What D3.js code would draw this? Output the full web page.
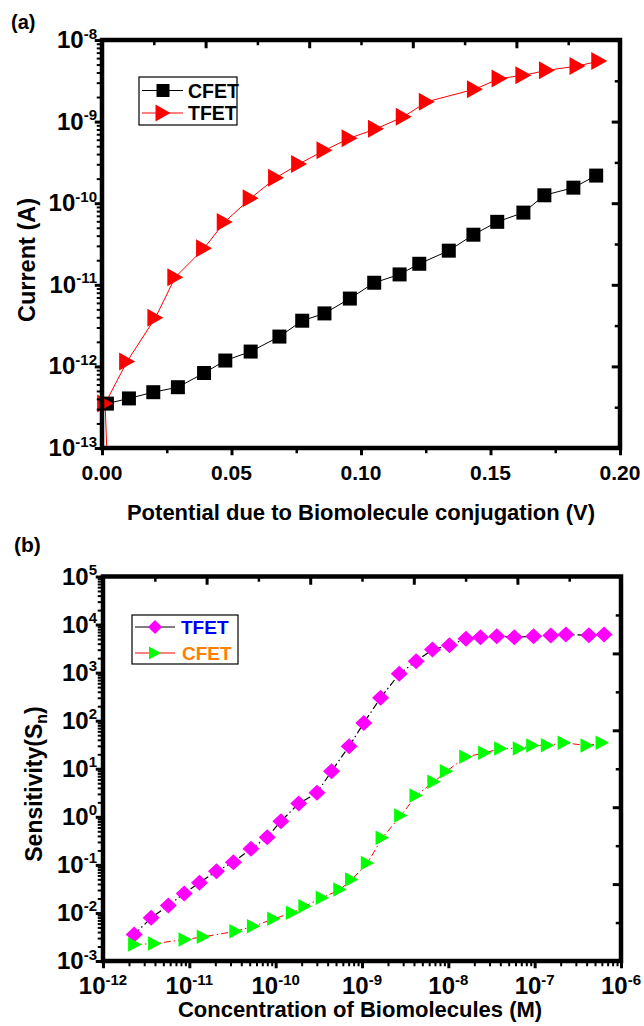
<!DOCTYPE html>
<html>
<head>
<meta charset="utf-8">
<script src="https://cdn.jsdelivr.net/npm/d3@7"></script>
<style>
  html, body { margin: 0; padding: 0; background: #fff; }
  svg { display: block; font-family: "Liberation Sans", Arial, sans-serif; font-weight: bold; }
</style>
</head>
<body>
<svg id="fig" width="644" height="1026"></svg>
<script>
// ---------------- Panel (a): current vs. conjugation potential ----------------
const potentialCFET = [0.0019, 0.0104, 0.0198, 0.0293, 0.0394, 0.0476, 0.0574, 0.0685, 0.0773, 0.0859,
                       0.0957, 0.1051, 0.1149, 0.1225, 0.1339, 0.1434, 0.1526, 0.1627, 0.1708, 0.1820, 0.1908];
const currentCFET   = [3.5e-13, 4.05e-13, 4.83e-13, 5.56e-13, 8.3e-13, 1.18e-12, 1.52e-12, 2.32e-12, 3.63e-12, 4.46e-12,
                       6.78e-12, 1.06e-11, 1.34e-11, 1.81e-11, 2.62e-11, 4.11e-11, 5.91e-11, 7.67e-11, 1.25e-10, 1.55e-10, 2.18e-10];
// first TFET sample lies below the plotted current range
const potentialTFET = [0.0030, 0.0012, 0.0097, 0.0206, 0.0283, 0.0394, 0.0474, 0.0574, 0.0672, 0.0761, 0.0859,
                       0.0956, 0.1058, 0.1165, 0.1254, 0.1440, 0.1535, 0.1627, 0.1718, 0.1836, 0.1920];
const currentTFET   = [1e-14, 3.5e-13, 1.15e-12, 3.94e-12, 1.24e-11, 2.8e-11, 5.9e-11, 1.15e-10, 2.05e-10, 3.03e-10, 4.44e-10,
                       6.26e-10, 8.15e-10, 1.15e-9, 1.75e-9, 2.5e-9, 3.37e-9, 3.69e-9, 4.25e-9, 4.8e-9, 5.52e-9];
const potentialTicks = [0, 0.05, 0.10, 0.15, 0.20];
const potentialTickLabels = ["0.00", "0.05", "0.10", "0.15", "0.20"];
const currentExponents = [-13, -12, -11, -10, -9, -8];

// ---------------- Panel (b): sensitivity vs. concentration ----------------
const concTFET = [2.30e-12, 3.61e-12, 5.71e-12, 8.73e-12, 1.31e-11, 2.06e-11, 3.24e-11, 5.18e-11, 7.98e-11, 1.15e-10,
                  1.85e-10, 3.01e-10, 4.44e-10, 7.10e-10, 1.05e-9, 1.64e-9, 2.70e-9, 4.24e-9, 6.55e-9, 1.03e-8,
                  1.60e-8, 2.36e-8, 3.64e-8, 5.82e-8, 9.72e-8, 1.54e-7, 2.30e-7, 4.24e-7, 6.37e-7];
const sensTFET = [3.56e-3, 7.9e-3, 0.0143, 0.0254, 0.0423, 0.0738, 0.114, 0.216, 0.377, 0.81,
                  1.89, 3.15, 8.9, 29.4, 90, 299, 942, 1726, 3020, 3715,
                  5047, 5445, 5715, 5445, 5715, 5912, 6195, 6000, 6195];
const concCFET = [2.34e-12, 3.98e-12, 8.97e-12, 1.46e-11, 3.48e-11, 5.56e-11, 9.55e-11, 1.57e-10, 2.19e-10, 3.48e-10,
                  5.56e-10, 7.62e-10, 1.16e-9, 1.72e-9, 2.82e-9, 4.24e-9, 6.84e-9, 9.55e-9, 1.60e-8, 2.65e-8,
                  4.06e-8, 6.67e-8, 9.55e-8, 1.41e-7, 2.21e-7, 4.06e-7, 6.08e-7];
const sensCFET = [2.2e-3, 2.31e-3, 2.8e-3, 3.18e-3, 4.17e-3, 5.3e-3, 7.55e-3, 0.0101, 0.0138, 0.0207,
                  0.0307, 0.0495, 0.110, 0.366, 1.06, 2.77, 5.35, 8.9, 17.7, 21.4,
                  26.4, 26.4, 30.4, 30.8, 34.6, 30.4, 34.6];
const concExponents = [-12, -11, -10, -9, -8, -7, -6];
const sensExponents = [-3, -2, -1, 0, 1, 2, 3, 4, 5];

const svg = d3.select("#fig");
const FRAME_W = 4.5;

// ---------- marker shapes ----------
const squarePath = s => `M${-s/2},${-s/2}H${s/2}V${s/2}H${-s/2}Z`;
const rightTriPath = (w, h) => `M${-w/2},${-h/2}L${w/2},0L${-w/2},${h/2}Z`;
const diamondPath = (w, h) => `M0,${-h/2}L${w/2},0L0,${h/2}L${-w/2},0Z`;

// ---------- helpers ----------
function logMinors(e0, e1) {
  const v = [];
  for (let e = e0; e < e1; e++) for (let k = 2; k <= 9; k++) v.push(k * Math.pow(10, e));
  return v;
}
function ticks(g, axisFn, scale, values, len, width, transform) {
  g.append("g").attr("transform", transform)
    .call(axisFn(scale).tickValues(values).tickSize(len).tickFormat(""))
    .call(s => s.select(".domain").remove())
    .selectAll("line").attr("stroke", "#000").attr("stroke-width", width);
}
function powText(g, x, y, exp, anchor) {
  const t = g.append("text").attr("x", x).attr("y", y)
    .attr("text-anchor", anchor).attr("font-size", 24).attr("fill", "#000");
  t.append("tspan").text("10");
  t.append("tspan").attr("dy", -9.5).attr("font-size", 15).text(String(exp));
  return t;
}
function framePanel(g, x0, x1, y0, y1) {
  g.append("rect").attr("x", x0).attr("y", y0).attr("width", x1 - x0).attr("height", y1 - y0)
    .attr("fill", "none").attr("stroke", "#000").attr("stroke-width", FRAME_W);
}
// ten equal divisions along top / right edges
function divisionTicks(g, xs, ys, x0, x1, y0, y1) {
  const hx = k => x0 + k * (x1 - x0) / 10;
  const vy = k => y1 - k * (y1 - y0) / 10;
  const odd = [1, 3, 5, 7, 9], even = [2, 4, 6, 8];
  ticks(g, d3.axisBottom, xs, odd.map(k => xs.invert(hx(k))), FRAME_W / 2 + 3, 2.5, `translate(0,${y0})`);
  ticks(g, d3.axisBottom, xs, even.map(k => xs.invert(hx(k))), FRAME_W / 2 + 6, 3, `translate(0,${y0})`);
  ticks(g, d3.axisLeft, ys, odd.map(k => ys.invert(vy(k))), FRAME_W / 2 + 3, 2.5, `translate(${x1},0)`);
  ticks(g, d3.axisLeft, ys, even.map(k => ys.invert(vy(k))), FRAME_W / 2 + 6, 3, `translate(${x1},0)`);
}

// =================== Panel (a) ===================
{
  const L = 102, R = 620, T = 40, B = 448;
  const x = d3.scaleLinear().domain([0, 0.2]).range([L, R]);
  const y = d3.scaleLog().domain([1e-13, 1e-8]).range([B, T]);
  const g = svg.append("g");

  g.append("clipPath").attr("id", "clipA").append("rect")
    .attr("x", L - 12).attr("y", T - 12).attr("width", R - L + 24).attr("height", B - T + 12);
  const plot = g.append("g").attr("clip-path", "url(#clipA)");

  const line = d3.line().x(d => x(d[0])).y(d => y(d[1]));
  const cfet = d3.zip(potentialCFET, currentCFET);
  const tfet = d3.zip(potentialTFET, currentTFET);

  plot.append("path").datum(cfet).attr("d", line)
    .attr("fill", "none").attr("stroke", "#000").attr("stroke-width", 1);
  plot.append("path").datum(tfet).attr("d", line)
    .attr("fill", "none").attr("stroke", "#ff0000").attr("stroke-width", 1);

  plot.selectAll(".sqA").data(cfet).join("path")
    .attr("transform", d => `translate(${x(d[0])},${y(d[1])})`)
    .attr("d", squarePath(14)).attr("fill", "#000");
  plot.selectAll(".trA").data(tfet).join("path")
    .attr("transform", d => `translate(${x(d[0])},${y(d[1])})`)
    .attr("d", rightTriPath(16, 18)).attr("fill", "#ff0000");

  framePanel(g, L, R, T, B);
  // left: outward decades + log minors
  ticks(g, d3.axisLeft, y, currentExponents.map(e => Math.pow(10, e)), FRAME_W / 2 + 5, 3, `translate(${L},0)`);
  ticks(g, d3.axisLeft, y, logMinors(-13, -8), FRAME_W / 2 + 3, 2, `translate(${L},0)`);
  // bottom: outward
  ticks(g, d3.axisBottom, x, potentialTicks, FRAME_W / 2 + 5, 3, `translate(0,${B})`);
  ticks(g, d3.axisBottom, x, [0.025, 0.075, 0.125, 0.175], FRAME_W / 2 + 3, 2.5, `translate(0,${B})`);
  divisionTicks(g, x, y, L, R, T, B);

  // tick labels
  potentialTicks.forEach((v, i) => {
    g.append("text").attr("x", x(v)).attr("y", 480).attr("text-anchor", "middle")
      .attr("font-size", 21).text(potentialTickLabels[i]);
  });
  currentExponents.forEach(e => powText(g, 97, y(Math.pow(10, e)) + 8, e, "end"));

  // axis titles
  g.append("text").attr("x", 361).attr("y", 520).attr("text-anchor", "middle")
    .attr("font-size", 22).text("Potential due to Biomolecule conjugation (V)");
  g.append("text").attr("transform", "translate(35,260) rotate(-90)").attr("text-anchor", "middle")
    .attr("font-size", 23.5).text("Current (A)");
  g.append("text").attr("x", 11).attr("y", 29).attr("font-size", 20).text("(a)");

  // legend
  const lg = g.append("g");
  lg.append("rect").attr("x", 139).attr("y", 77).attr("width", 98).attr("height", 48)
    .attr("fill", "#fff").attr("stroke", "#000").attr("stroke-width", 1.2);
  const rows = [
    { y: 90.5, color: "#000", label: "CFET", shape: squarePath(13) },
    { y: 113, color: "#ff0000", label: "TFET", shape: rightTriPath(15, 17) }
  ];
  rows.forEach(r => {
    lg.append("line").attr("x1", 142).attr("x2", 183).attr("y1", r.y).attr("y2", r.y)
      .attr("stroke", r.color).attr("stroke-width", 1);
    lg.append("path").attr("transform", `translate(163,${r.y})`).attr("d", r.shape).attr("fill", r.color);
    lg.append("text").attr("x", 188).attr("y", r.y + 7).attr("font-size", 19.5).text(r.label);
  });
}

// =================== Panel (b) ===================
{
  const L = 103, R = 621, T = 576.5, B = 961;
  const x = d3.scaleLog().domain([1e-12, 1e-6]).range([L, R]);
  const y = d3.scaleLog().domain([1e-3, 1e5]).range([B, T]);
  const g = svg.append("g");

  g.append("clipPath").attr("id", "clipB").append("rect")
    .attr("x", L - 12).attr("y", T - 12).attr("width", R - L + 24).attr("height", B - T + 12);
  const plot = g.append("g").attr("clip-path", "url(#clipB)");

  const line = d3.line().x(d => x(d[0])).y(d => y(d[1]));
  const tfet = d3.zip(concTFET, sensTFET);
  const cfet = d3.zip(concCFET, sensCFET);

  plot.append("path").datum(tfet).attr("d", line)
    .attr("fill", "none").attr("stroke", "#000").attr("stroke-width", 1.2)
    .attr("stroke-dasharray", "7,3,1.5,3");
  plot.append("path").datum(cfet).attr("d", line)
    .attr("fill", "none").attr("stroke", "#ff0000").attr("stroke-width", 1)
    .attr("stroke-dasharray", "7,3,1.5,3");

  plot.selectAll(".dmB").data(tfet).join("path")
    .attr("transform", d => `translate(${x(d[0])},${y(d[1])})`)
    .attr("d", diamondPath(17, 16)).attr("fill", "#ff00ff");
  plot.selectAll(".trB").data(cfet).join("path")
    .attr("transform", d => `translate(${x(d[0])},${y(d[1])})`)
    .attr("d", rightTriPath(13.5, 14.5)).attr("fill", "#00ff00");

  framePanel(g, L, R, T, B);
  ticks(g, d3.axisLeft, y, sensExponents.map(e => Math.pow(10, e)), FRAME_W / 2 + 5, 3, `translate(${L},0)`);
  ticks(g, d3.axisLeft, y, logMinors(-3, 5), FRAME_W / 2 + 3, 2, `translate(${L},0)`);
  ticks(g, d3.axisBottom, x, concExponents.map(e => Math.pow(10, e)), FRAME_W / 2 + 5, 3, `translate(0,${B})`);
  ticks(g, d3.axisBottom, x, logMinors(-12, -6), FRAME_W / 2 + 3, 2, `translate(0,${B})`);
  divisionTicks(g, x, y, L, R, T, B);

  concExponents.forEach(e => powText(g, x(Math.pow(10, e)), 994, e, "middle"));
  sensExponents.forEach(e => powText(g, 97, y(Math.pow(10, e)) + 8, e, "end"));

  g.append("text").attr("x", 360).attr("y", 1017).attr("text-anchor", "middle")
    .attr("font-size", 22).text("Concentration of Biomolecules (M)");
  const yt = g.append("text").attr("transform", "translate(42,784) rotate(-90)")
    .attr("text-anchor", "middle").attr("font-size", 23);
  yt.append("tspan").text("Sensitivity(S");
  yt.append("tspan").attr("dy", 5).attr("font-size", 16).text("n");
  yt.append("tspan").attr("dy", -5).text(")");
  g.append("text").attr("x", 14).attr("y", 552).attr("font-size", 21).text("(b)");

  const lg = g.append("g");
  lg.append("rect").attr("x", 132).attr("y", 615).attr("width", 106).attr("height", 49)
    .attr("fill", "#fff").attr("stroke", "#000").attr("stroke-width", 1.2);
  const rows = [
    { y: 627, line: "#000", fill: "#ff00ff", text: "#0000ff", label: "TFET", shape: diamondPath(14, 14), tx: 181 },
    { y: 653, line: "#ff0000", fill: "#00ff00", text: "#ff7f00", label: "CFET", shape: rightTriPath(12, 13), tx: 182 }
  ];
  rows.forEach(r => {
    lg.append("line").attr("x1", 135).attr("x2", 175).attr("y1", r.y).attr("y2", r.y)
      .attr("stroke", r.line).attr("stroke-width", 1);
    lg.append("path").attr("transform", `translate(155,${r.y})`).attr("d", r.shape).attr("fill", r.fill);
    lg.append("text").attr("x", r.tx).attr("y", r.y + 7).attr("font-size", 19)
      .attr("fill", r.text).text(r.label);
  });
}
</script>
</body>
</html>
